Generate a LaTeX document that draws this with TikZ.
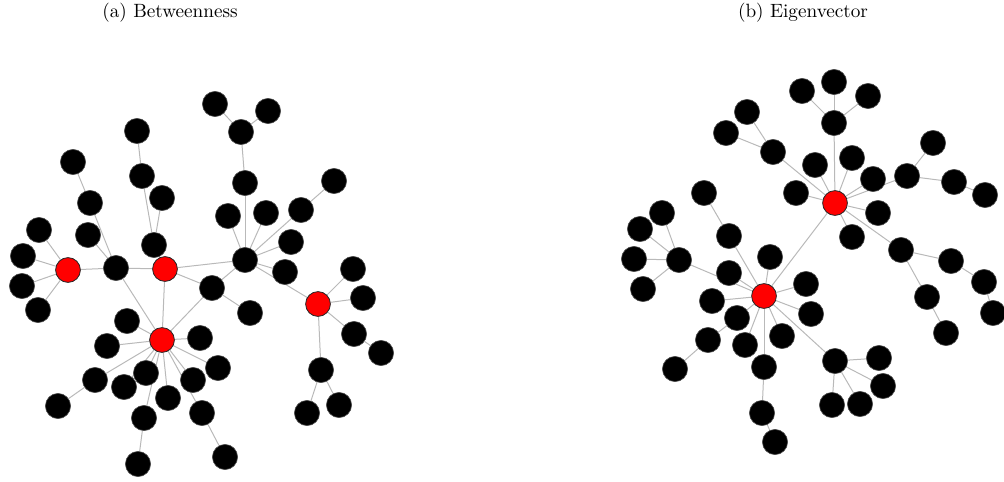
\documentclass[tikz,border=0pt]{standalone}
\usetikzlibrary{backgrounds}
\definecolor{edgegray}{RGB}{185,185,185}
\tikzset{
  blk/.style={circle,fill=black,draw=black!70,line width=0.3pt,inner sep=0pt,minimum size=12.6pt},
  hub/.style={circle,fill=red,draw=black!85,line width=0.4pt,inner sep=0pt,minimum size=12.4pt},
  lnk/.style={draw=edgegray,line width=0.5pt},
  ttl/.style={font=\fontsize{9.6}{11}\selectfont,inner sep=0pt}
}
\begin{document}
\begin{tikzpicture}[x=0.5pt,y=-0.5pt]
\useasboundingbox (0,0) rectangle (1004,481);
\node[ttl] (ta) at (170,13) {(a) Betweenness};
\node[ttl] (tb) at (803,13) {(b) Eigenvector};
% ---------- (a) ----------
\foreach \n/\x/\y in {aR1/68/270,aR2/165/269,aR3/162/340,aR4/318/304}
  \node[hub] (\n) at (\x,\y) {};
\foreach \n/\x/\y in {aH/245/260,a1/137/131,a2/142/176,a3/162/198,a4/154/245,a5/73/162,a6/90/203,a7/88/235,a8/116/268,a9/39/230,a10/23/256,a11/22/286,a12/38/310,a13/215/104,a14/268/111,a15/241/132,a16/245/183,a17/228/216,a18/266/213,a19/301/210,a20/334/181,a21/291/242,a22/285/272,a23/212/288,a24/250/313,a25/353/269,a26/363/298,a27/354/334,a28/381/353,a29/321/370,a30/307/413,a31/339/405,a32/127/321,a33/107/346,a34/200/338,a35/95/380,a36/58/406,a37/124/387,a38/146/373,a39/168/398,a40/193/380,a41/218/368,a42/144/418,a43/202/413,a44/138/464,a45/225/457}
  \node[blk] (\n) at (\x,\y) {};
% ---------- (b) ----------
\foreach \n/\x/\y in {bA/835/203,bB/764/296}
  \node[hub] (\n) at (\x,\y) {};
\foreach \n/\x/\y in {b1/802/91,b2/834/82,b3/868/96,b4/834/123,b5/747/112,b6/726/133,b7/773/152,b8/815/165,b9/852/158,b10/873/179,b11/907/176,b12/933/143,b13/954/182,b14/985/195,b15/796/193,b16/878/213,b17/852/237,b18/901/250,b19/951/261,b20/984/282,b21/993/313,b22/927/297,b23/946/333,b24/704/193,b25/729/236,b26/662/213,b27/640/229,b28/634/259,b29/679/260,b30/643/289,b31/729/273,b32/770/257,b33/712/301,b34/737/318,b35/708/340,b36/675/369,b37/745/345,b38/782/336,b39/806/284,b40/811/314,b41/764/367,b42/762/413,b43/775/442,b44/835/361,b45/879/358,b46/883/386,b47/832/405,b48/860/404}
  \node[blk] (\n) at (\x,\y) {};
\begin{scope}[on background layer]
\foreach \u/\v in {a1/a2,a2/a4,a3/a4,a4/aR2,a5/a6,a6/a8,a7/a8,a9/aR1,a10/aR1,a11/aR1,a12/aR1,aR1/a8,a8/aR2,a8/aR3,aR2/aH,aR2/aR3,aR2/a23,a13/a15,a14/a15,a15/a16,a16/aH,a17/aH,a18/aH,a19/aH,a20/a19,a21/aH,a22/aH,aH/aR4,aH/a23,a23/a24,a23/aR3,aR4/a25,aR4/a26,aR4/a27,a27/a28,aR4/a29,a29/a30,a29/a31,aR3/a32,aR3/a33,aR3/a34,aR3/a35,a35/a36,aR3/a37,aR3/a38,aR3/a39,aR3/a40,aR3/a41,aR3/a42,a42/a44,aR3/a43,a43/a45}
  \draw[lnk] (\u) -- (\v);
\foreach \u/\v in {b1/b4,b2/b4,b3/b4,b4/bA,b5/b7,b6/b7,b7/bA,b8/bA,b9/bA,b10/bA,b11/bA,b12/b11,b11/b13,b13/b14,bA/b15,bA/b16,bA/b17,bA/b18,b18/b19,b19/b20,b20/b21,b18/b22,b22/b23,bA/bB,b24/b25,b25/bB,b26/b29,b27/b29,b28/b29,b30/b29,b29/bB,b31/bB,b32/bB,b33/bB,b34/bB,b35/b34,b36/b35,b37/bB,b38/bB,b39/bB,b40/bB,bB/b41,b41/b42,b42/b43,bB/b44,b44/b45,b44/b46,b44/b47,b44/b48}
  \draw[lnk] (\u) -- (\v);
\end{scope}
\end{tikzpicture}
\end{document}
